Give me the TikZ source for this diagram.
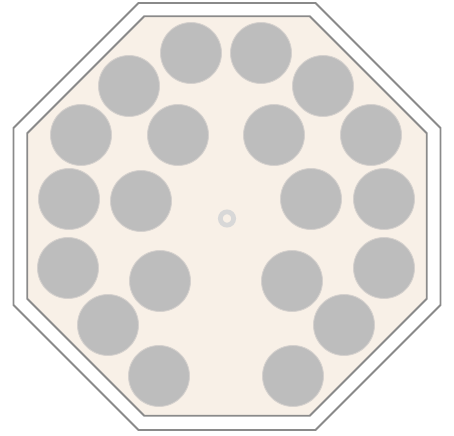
\documentclass[tikz,border=0pt]{standalone}
\usepackage{tikz}
\definecolor{shell}{HTML}{8A8A8A}
\definecolor{floor}{HTML}{F8F0E7}
\definecolor{pinfill}{HTML}{BDBDBD}
\definecolor{hubring}{HTML}{D8D8D8}

\begin{document}
\begin{tikzpicture}[
  x=0.02cm, y=-0.02cm,
  wall/.style={draw=shell, line width=1.1pt, line join=miter},
  pin/.style={circle, fill=pinfill, draw=pinfill!60!floor, line width=0.5pt, minimum size=1.22cm, inner sep=0pt},
  hub/.style={circle, draw=hubring, line width=2.7pt, minimum size=0.266cm, inner sep=0pt}
]
  \useasboundingbox (0,0) rectangle (454,436);

  % outer and inner octagon walls
  \draw[wall, shift={(227,216.5)}] (22.5:231.1) \foreach \a in {67.5,112.5,...,337.5} {-- (\a:231.1)} -- cycle;
  \draw[wall, fill=floor, shift={(227,216)}] (22.5:216.2) \foreach \a in {67.5,112.5,...,337.5} {-- (\a:216.2)} -- cycle;

  % pins, left half then right half
  \foreach \x/\y [count=\i] in {191/53, 129/86, 81/135, 178/135, 69/199, 141/201, 68/268, 160/281, 108/325, 159/376,
                                261/53, 323/86, 371/135, 274/135, 384/199, 311/199, 384/268, 292/281, 344/325, 293/376}
    \node[pin] (p\i) at (\x,\y) {};

  \node[hub] (hub) at (227,218.5) {};
\end{tikzpicture}
\end{document}
